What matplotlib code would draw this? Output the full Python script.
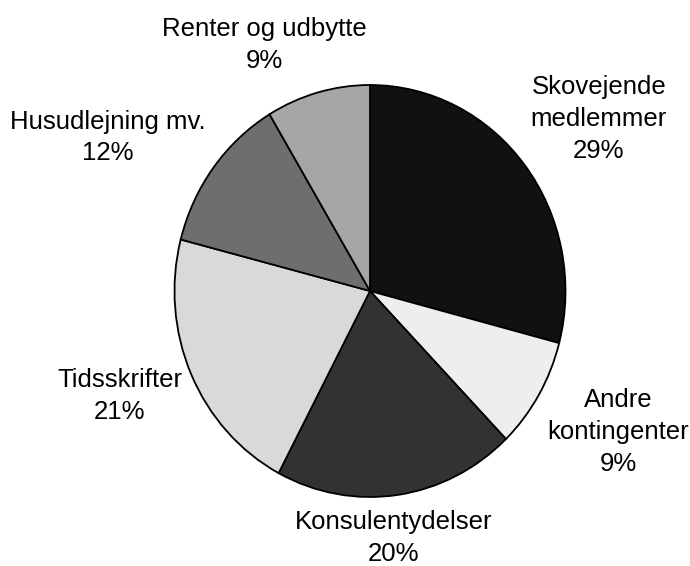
import matplotlib.pyplot as plt

plt.rcParams['font.family'] = ['Liberation Sans', 'DejaVu Sans']

names = ["Skovejende\nmedlemmer", "Andre\nkontingenter", "Konsulentydelser",
         "Tidsskrifter", "Husudlejning mv.", "Renter og udbytte"]
values = [29.1, 8.7, 20.0, 21.3, 12.4, 8.6]
colors = ["#111111", "#eeeeee", "#323232", "#d9d9d9", "#6e6e6e", "#a6a6a6"]
# label positions in pie units (x radius = y radius = 1)
label_pos = [(1.17, 0.835), (1.27, -0.684), (0.12, -1.20),
             (-1.28, -0.51), (-1.34, 0.745), (-0.54, 1.194)]

fig = plt.figure(figsize=(6.9, 5.66), dpi=100)
# pie is slightly taller than wide in the original
ax = fig.add_axes([(370 - 195.5) / 690, (566 - 291 - 206) / 566, 391 / 690, 412 / 566])

wedges, _ = ax.pie(values, colors=colors, startangle=90, counterclock=False,
                   wedgeprops=dict(edgecolor="black", linewidth=1.3))
ax.set_aspect("auto")
ax.set_xlim(-1, 1)
ax.set_ylim(-1, 1)
ax.axis("off")

total = sum(values)
for name, v, (x, y) in zip(names, values, label_pos):
    ax.text(x, y, name + "\n" + str(round(v / total * 100)) + "%",
            ha="center", va="center", fontsize=18.5, linespacing=1.4,
            clip_on=False)

fig.savefig("out.png", dpi=100)
